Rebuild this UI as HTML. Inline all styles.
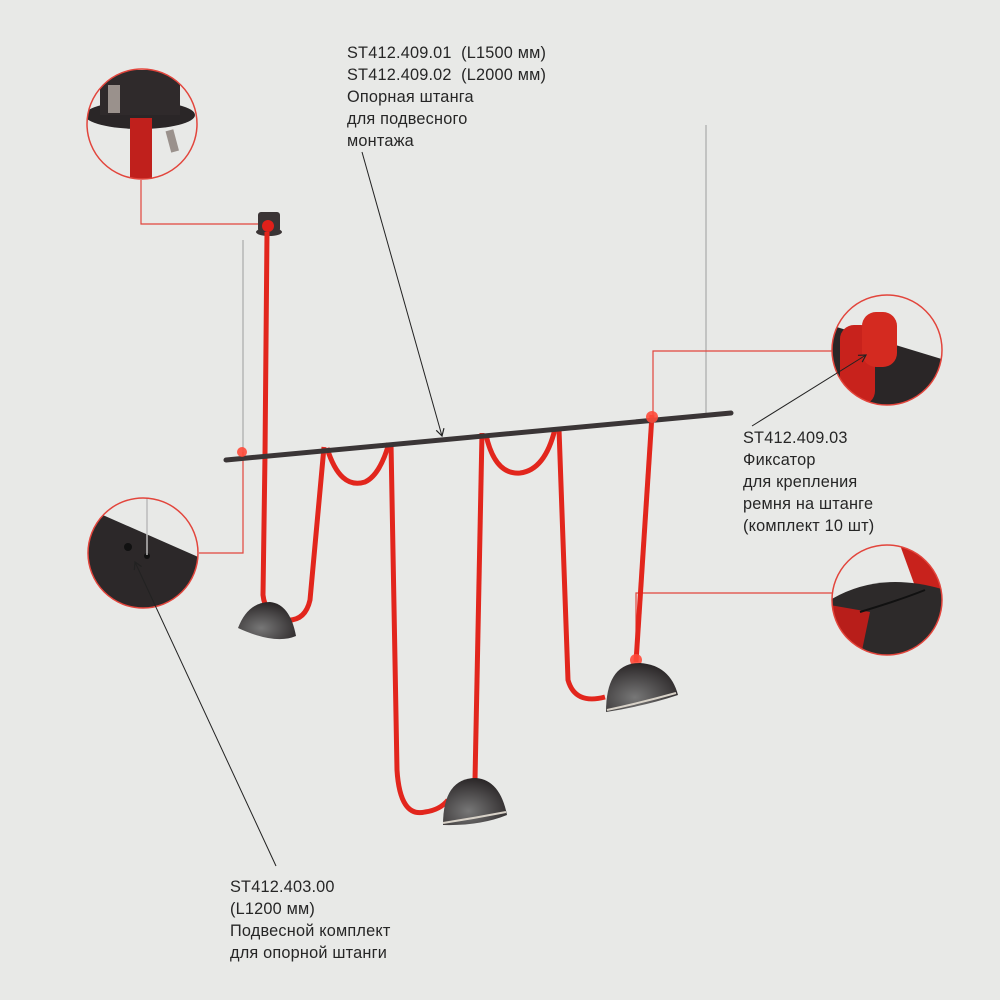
<!DOCTYPE html>
<html><head><meta charset="utf-8"><style>
html,body{margin:0;padding:0;background:#e8e9e7;}
body{width:1000px;height:1000px;position:relative;overflow:hidden;font-family:"Liberation Sans",sans-serif;color:#262626;}
.t{position:absolute;font-size:16.3px;line-height:22px;letter-spacing:0.2px;}
svg{position:absolute;left:0;top:0;}
</style></head><body>
<svg width="1000" height="1000" viewBox="0 0 1000 1000">
<defs>
<marker id="a" markerWidth="10" markerHeight="10" refX="8" refY="5" orient="auto"><path d="M1,1 L8,5 L1,9" fill="none" stroke="#222" stroke-width="1.2"/></marker>
<radialGradient id="dome" cx="0.4" cy="0.7" r="0.7"><stop offset="0" stop-color="#777"/><stop offset="1" stop-color="#2a2627"/></radialGradient>
<clipPath id="c1"><circle cx="142" cy="124" r="55"/></clipPath>
<clipPath id="c2"><circle cx="143" cy="553" r="55"/></clipPath>
<clipPath id="c3"><circle cx="887" cy="350" r="55"/></clipPath>
<clipPath id="c4"><circle cx="887" cy="600" r="55"/></clipPath>
</defs>
<line x1="243" y1="240" x2="243" y2="455" stroke="#8a8a8a" stroke-width="0.8"/>
<line x1="706" y1="125" x2="706" y2="415" stroke="#8a8a8a" stroke-width="0.8"/>
<g stroke="#e2453c" stroke-width="1.2" fill="none">
<polyline points="141,180 141,224 262,224"/>
<polyline points="199,553 243,553 243,452"/>
<polyline points="832,351 653,351 653,415"/>
<polyline points="832,593 636,593 636,658"/>
</g>
<rect x="258" y="212" width="22" height="20" rx="3" fill="#3a3435"/>
<ellipse cx="269" cy="232" rx="13" ry="4" fill="#3a3435"/>
<g fill="none" stroke="#e2261d" stroke-width="5" stroke-linejoin="round">
<path d="M267,232 L265,455 L263,595 Q265,615 285,620 Q305,622 310,600 L324,447"/>
<path d="M327,448 Q340,490 365,482 Q380,475 389,443"/>
<path d="M391,443 L397,770 Q400,818 425,812 Q440,810 448,800"/>
<path d="M475,780 L482,433"/>
<path d="M486,435 Q495,475 520,473 Q545,470 555,429"/>
<path d="M559,429 L568,680 Q575,705 605,697"/>
<path d="M636,662 L652,415"/>
</g>
<line x1="226" y1="460" x2="731" y2="413" stroke="#3a3536" stroke-width="5" stroke-linecap="round"/>
<circle cx="242" cy="452" r="5" fill="#ff4a3a" opacity="0.9"/>
<circle cx="652" cy="417" r="6" fill="#ff4a3a" opacity="0.9"/>
<circle cx="636" cy="660" r="6" fill="#ff4a3a" opacity="0.9"/>
<circle cx="268" cy="226" r="6" fill="#e0201a"/>
<path d="M238,628 Q248,602 270,602 Q290,604 296,636 Q275,645 238,628Z" fill="url(#dome)"/>
<path d="M443,825 Q443,778 476,778 Q500,780 507,815 Q480,826 443,825Z" fill="url(#dome)"/>
<path d="M443,823 Q475,818 506,812" stroke="#d8d2c8" stroke-width="2" fill="none"/>
<path d="M606,712 Q606,663 640,663 Q670,665 678,695 Q645,706 606,712Z" fill="url(#dome)"/>
<path d="M607,710 Q640,703 676,693" stroke="#d8d2c8" stroke-width="2" fill="none"/>
<g clip-path="url(#c1)">
<rect x="80" y="60" width="130" height="130" fill="#e8e9e7"/>
<ellipse cx="140" cy="115" rx="55" ry="14" fill="#2a2627"/>
<rect x="100" y="70" width="80" height="45" fill="#2f2a2b"/>
<rect x="130" y="118" width="22" height="70" fill="#c0201c"/>
<rect x="108" y="85" width="12" height="28" fill="#9a918c"/>
<rect x="168" y="130" width="8" height="22" fill="#9a918c" transform="rotate(-15 172 140)"/>
</g>
<circle cx="142" cy="124" r="55" fill="none" stroke="#e2453c" stroke-width="1.5"/>
<g clip-path="url(#c2)">
<rect x="85" y="495" width="120" height="120" fill="#e8e9e7"/>
<path d="M80,505 L205,560 L205,615 L80,615Z" fill="#2c2829"/>
<circle cx="128" cy="547" r="4" fill="#111"/>
<circle cx="147" cy="556" r="3" fill="#111"/>
<line x1="147" y1="498" x2="147" y2="555" stroke="#bbb" stroke-width="1.5"/>
</g>
<circle cx="143" cy="553" r="55" fill="none" stroke="#e2453c" stroke-width="1.5"/>
<g clip-path="url(#c3)">
<rect x="830" y="293" width="115" height="115" fill="#e8e9e7"/>
<path d="M830,325 L945,360 L945,410 L830,410Z" fill="#2a2627"/>
<rect x="840" y="325" width="35" height="80" rx="14" fill="#c8221c"/>
<rect x="862" y="312" width="35" height="55" rx="14" fill="#d42a20"/>
</g>
<circle cx="887" cy="350" r="55" fill="none" stroke="#e2453c" stroke-width="1.5"/>
<g clip-path="url(#c4)">
<rect x="830" y="545" width="115" height="115" fill="#e8e9e7"/>
<path d="M900,545 L945,545 L945,590 L920,600Z" fill="#c8221c"/>
<path d="M830,600 Q880,570 945,590 L945,660 L830,660Z" fill="#2d2a2a"/>
<path d="M830,605 L870,612 L860,660 L830,660Z" fill="#b81e1a"/>
<path d="M860,612 Q900,600 925,590" stroke="#111" stroke-width="2" fill="none"/>
</g>
<circle cx="887" cy="600" r="55" fill="none" stroke="#e2453c" stroke-width="1.5"/>
<line x1="362" y1="152" x2="442" y2="436" stroke="#222" stroke-width="1" marker-end="url(#a)"/>
<line x1="752" y1="426" x2="866" y2="355" stroke="#222" stroke-width="1" marker-end="url(#a)"/>
<line x1="276" y1="866" x2="135" y2="562" stroke="#222" stroke-width="1" marker-end="url(#a)"/>
</svg>
<div class="t" style="left:347px;top:42px;">ST412.409.01&nbsp; (L1500 мм)<br>ST412.409.02&nbsp; (L2000 мм)<br>Опорная штанга<br>для подвесного<br>монтажа</div>
<div class="t" style="left:743px;top:427px;">ST412.409.03<br>Фиксатор<br>для крепления<br>ремня на штанге<br>(комплект 10 шт)</div>
<div class="t" style="left:230px;top:876px;">ST412.403.00<br>(L1200 мм)<br>Подвесной комплект<br>для опорной штанги</div>
</body></html>
